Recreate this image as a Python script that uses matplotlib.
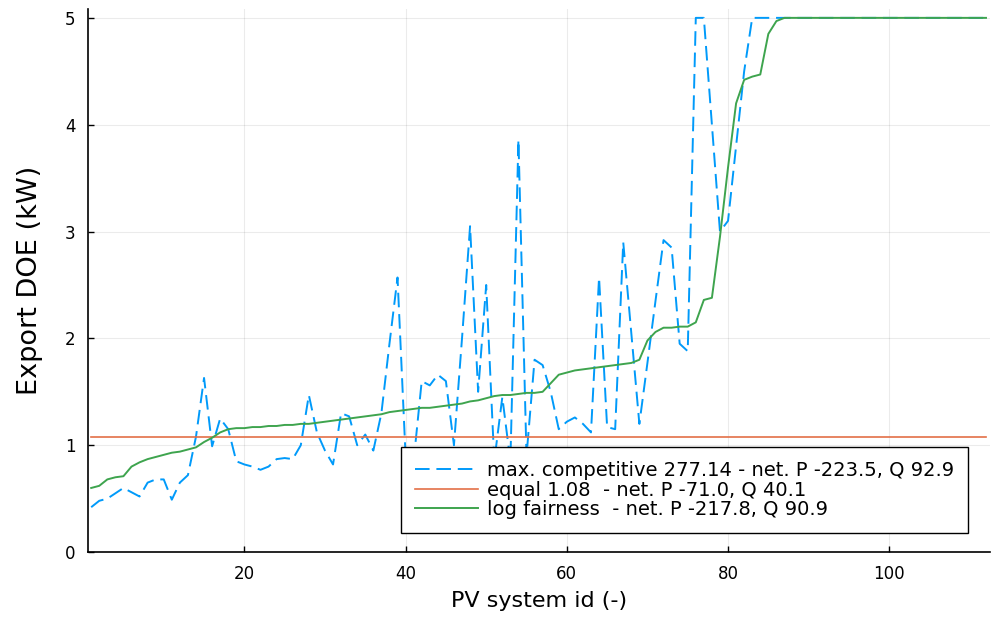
import matplotlib
matplotlib.use("Agg")
import matplotlib.pyplot as plt
import numpy as np

# PV system ids 1..112
pv_ids = np.arange(1, 113)

# max. competitive export envelope (kW), ids 1..83, then capped at 5 kW
max_competitive = [
    0.42, 0.48, 0.50, 0.55, 0.60, 0.56, 0.52, 0.65, 0.68, 0.68,
    0.49, 0.65, 0.72, 1.08, 1.63, 0.99, 1.25, 1.15, 0.85, 0.82,
    0.80, 0.77, 0.80, 0.87, 0.88, 0.87, 1.00, 1.47, 1.12, 0.95,
    0.82, 1.30, 1.27, 1.00, 1.10, 0.95, 1.30, 1.95, 2.57, 0.90,
    0.85, 1.60, 1.56, 1.66, 1.60, 1.00, 2.00, 3.05, 1.50, 2.50,
    0.85, 1.45, 0.85, 3.86, 0.90, 1.80, 1.75, 1.50, 1.15, 1.22,
    1.26, 1.20, 1.12, 2.57, 1.17, 1.15, 2.90, 2.05, 1.20, 1.77,
    2.35, 2.92, 2.85, 1.95, 1.88, 5.00, 5.00, 4.00, 3.00, 3.10,
    3.80, 4.50, 5.00,
] + [5.0] * 29

# equal allocation
equal_value = 1.08

# log fairness envelope (kW), ids 1..86, then capped at 5 kW
log_fairness = [
    0.60, 0.62, 0.68, 0.70, 0.71, 0.80, 0.84, 0.87, 0.89, 0.91,
    0.93, 0.94, 0.96, 0.98, 1.03, 1.07, 1.12, 1.15, 1.16, 1.16,
    1.17, 1.17, 1.18, 1.18, 1.19, 1.19, 1.20, 1.20, 1.21, 1.22,
    1.23, 1.24, 1.25, 1.26, 1.27, 1.28, 1.29, 1.31, 1.32, 1.33,
    1.34, 1.35, 1.35, 1.36, 1.37, 1.38, 1.39, 1.41, 1.42, 1.44,
    1.46, 1.47, 1.47, 1.48, 1.49, 1.49, 1.50, 1.58, 1.66, 1.68,
    1.70, 1.71, 1.72, 1.73, 1.74, 1.75, 1.76, 1.77, 1.80, 1.98,
    2.06, 2.10, 2.10, 2.11, 2.11, 2.15, 2.36, 2.38, 2.95, 3.60,
    4.20, 4.42, 4.45, 4.47, 4.85, 4.97,
] + [5.0] * 26

labels = [
    "max. competitive 277.14 - net. P -223.5, Q 92.9",
    "equal 1.08  - net. P -71.0, Q 40.1",
    "log fairness  - net. P -217.8, Q 90.9",
]

fig = plt.figure(figsize=(9.94, 6.21), dpi=100)
ax = fig.add_axes([0.0885, 0.111, 0.9075, 0.874])

ax.plot(pv_ids, max_competitive, color="#009AFA", lw=1.4, dashes=(7.5, 3.5), label=labels[0])
ax.plot(pv_ids, np.full(len(pv_ids), equal_value), color="#E36F47", lw=1.2, label=labels[1])
ax.plot(pv_ids, log_fairness, color="#3EA44E", lw=1.4, label=labels[2])

ax.set_xlim(0.6, 112.5)
ax.set_ylim(0, 5.08)
ax.set_xticks([20, 40, 60, 80, 100])
ax.set_yticks([0, 1, 2, 3, 4, 5])
ax.grid(True, color="black", alpha=0.08, lw=0.8)
ax.spines["top"].set_visible(False)
ax.spines["right"].set_visible(False)
ax.spines["left"].set_linewidth(1.2)
ax.spines["bottom"].set_linewidth(1.2)
ax.tick_params(direction="in", length=4, width=1, labelsize=12, pad=9, colors="black")

ax.set_xlabel("PV system id (-)", fontsize=16)
ax.set_ylabel("Export DOE (kW)", fontsize=19.5)
ax.xaxis.set_label_coords(0.5, -0.072)
ax.yaxis.set_label_coords(-0.05, 0.5)

leg = ax.legend(loc="lower right", bbox_to_anchor=(0.9756, 0.035), borderaxespad=0,
                fontsize=14, fancybox=False, framealpha=1, edgecolor="black",
                handlelength=3.25, handletextpad=0.45, borderpad=0.72, labelspacing=0.02)
leg.get_frame().set_linewidth(1.0)

fig.savefig("out.png", dpi=100)
